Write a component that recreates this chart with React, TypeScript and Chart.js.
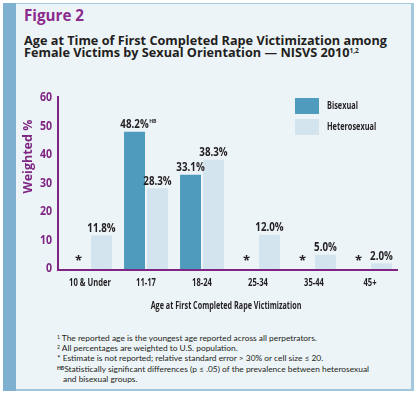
import React, { useEffect, useRef } from "react";
import { Chart, registerables } from "chart.js";

Chart.register(...registerables);

// ---- Data ----
const categories = ["10 & Under", "11-17", "18-24", "25-34", "35-44", "45+"];
const seriesNames = ["Bisexual", "Heterosexual"];
const bisexualValues: (number | null)[] = [null, 48.2, 33.1, null, null, null];
const heterosexualValues: (number | null)[] = [11.8, 28.3, 38.3, 12.0, 5.0, 2.0];
const bisexualNotes = ["", "HB", "", "", "", ""];
const heterosexualNotes = ["", "", "", "", "", ""];
const yMin = 0;
const yMax = 60;
const yStep = 10;
const yAxisTitle = "Weighted %";
const xAxisTitle = "Age at First Completed Rape Victimization";
const footnotes = [
  { mark: "1", text: "The reported age is the youngest age reported across all perpetrators." },
  { mark: "2", text: "All percentages are weighted to U.S. population." },
  { mark: "*", text: "Estimate is not reported; relative standard error > 30% or cell size \u2264 20." },
  { mark: "HB", text: "Statistically significant differences (p \u2264 .05) of the prevalence between heterosexual and bisexual groups." },
];

// ---- Styles ----
const PURPLE = "#7e2583";
const TEXT = "#231f20";
const BI_COLOR = "#4f9bbd";
const HET_COLOR = "#d3e4ee";
const PANEL_BG = "#edf4f8";
const STRIP = "#7fb0cf";
const BORDER = "#a3c7dd";
const FONT = '"Open Sans", "Noto Sans", sans-serif';
const SANS_FOOT = 'Lato, "Open Sans", sans-serif';

const notesByDataset = [bisexualNotes, heterosexualNotes];

function drawText(
  ctx: CanvasRenderingContext2D,
  text: string,
  x: number,
  y: number,
  size: number,
  color: string,
  align: CanvasTextAlign,
  sx: number,
  baseline: CanvasTextBaseline = "alphabetic",
  rotate = 0
) {
  ctx.save();
  ctx.font = `bold ${size}px ${FONT}`;
  ctx.fillStyle = color;
  ctx.textAlign = align;
  ctx.textBaseline = baseline;
  ctx.translate(x, y);
  if (rotate) ctx.rotate(rotate);
  ctx.scale(sx, 1);
  ctx.fillText(text, 0, 0);
  ctx.restore();
}

const annotationPlugin = {
  id: "barAnnotations",
  afterDatasetsDraw(chart: any) {
    const ctx: CanvasRenderingContext2D = chart.ctx;
    const xScale = chart.scales.x;
    const yScale = chart.scales.y;
    const area = chart.chartArea;
    const y0 = yScale.getPixelForValue(0);
    ctx.save();
    // axis lines
    ctx.strokeStyle = PURPLE;
    ctx.lineWidth = 2;
    ctx.beginPath();
    const axX = area.left - 4;
    ctx.moveTo(axX, area.top - 2);
    ctx.lineTo(axX, y0 + 1);
    ctx.lineTo(area.right, y0 + 1);
    ctx.stroke();
    ctx.restore();

    // y tick labels
    yScale.ticks.forEach((t: any) => {
      drawText(ctx, String(t.value), axX - 6, yScale.getPixelForValue(t.value), 11.5, PURPLE, "right", 0.92, "middle");
    });
    // y title
    drawText(ctx, yAxisTitle, 12, (area.top + area.bottom) / 2 - 27, 12.5, PURPLE, "center", 1.0, "middle", -Math.PI / 2);
    // x tick labels
    categories.forEach((c, i) => {
      drawText(ctx, c, xScale.getPixelForTick(i), y0 + 14.5, 10, TEXT, "center", 0.76, "middle");
    });
    // x title
    drawText(ctx, xAxisTitle, (area.left + area.right) / 2 - 4, y0 + 37.5, 10, TEXT, "center", 0.72, "middle");

    // bar labels
    chart.data.datasets.forEach((ds: any, di: number) => {
      const meta = chart.getDatasetMeta(di);
      meta.data.forEach((bar: any, i: number) => {
        const v = ds.data[i];
        if (v == null) {
          drawText(ctx, "*", bar.x, y0 - 4, 13, TEXT, "center", 1, "alphabetic");
        } else {
          const t = v.toFixed(1) + "%";
          drawText(ctx, t, bar.x, bar.y - 3.5, 11.5, TEXT, "center", 0.85, "alphabetic");
          const sup = notesByDataset[di][i];
          if (sup) {
            ctx.save();
            ctx.font = `bold 11.5px ${FONT}`;
            const w = ctx.measureText(t).width * 0.85;
            ctx.restore();
            drawText(ctx, sup, bar.x + w / 2 + 0.5, bar.y - 8.5, 6, TEXT, "left", 0.85, "alphabetic");
          }
        }
      });
    });

    // legend
    chart.data.datasets.forEach((ds: any, di: number) => {
      const lx = area.right - 103;
      const ly = area.top + di * 21;
      ctx.save();
      ctx.fillStyle = ds.backgroundColor;
      ctx.fillRect(lx, ly, 24, 16);
      ctx.restore();
      drawText(ctx, ds.label, lx + 32, ly + 8.5, 10.5, TEXT, "left", 0.7, "middle");
    });
  },
};

export default function App() {
  const canvasRef = useRef<HTMLCanvasElement | null>(null);

  useEffect(() => {
    if (!canvasRef.current) return;
    const chart = new Chart(canvasRef.current, {
      type: "bar",
      data: {
        labels: categories,
        datasets: [
          {
            label: seriesNames[0],
            data: bisexualValues,
            backgroundColor: BI_COLOR,
            categoryPercentage: 0.82,
            barPercentage: 0.913,
          },
          {
            label: seriesNames[1],
            data: heterosexualValues,
            backgroundColor: HET_COLOR,
            categoryPercentage: 0.82,
            barPercentage: 0.913,
          },
        ],
      },
      options: {
        animation: false,
        responsive: false,
        maintainAspectRatio: false,
        layout: { padding: { left: 0, right: 14, top: 18, bottom: 0 } },
        plugins: {
          legend: { display: false },
          tooltip: { enabled: false },
        },
        scales: {
          x: {
            grid: { display: false, drawTicks: false },
            border: { display: false },
            ticks: { display: false },
            afterFit: (scale: any) => {
              scale.height = 51;
            },
          },
          y: {
            min: yMin,
            max: yMax,
            grid: { display: false, drawTicks: false },
            border: { display: false },
            ticks: { display: false, stepSize: yStep },
            afterFit: (scale: any) => {
              scale.width = 46;
            },
          },
        },
      },
      plugins: [annotationPlugin],
    });
    return () => chart.destroy();
  }, []);

  return (
    <div
      style={{
        position: "fixed",
        left: 0,
        top: 0,
        width: 416,
        height: 394,
        background: "#ffffff",
        overflow: "hidden",
      }}
    >
      {/* panel */}
      <div
        style={{
          position: "absolute",
          left: 3,
          top: 3,
          width: 411,
          height: 388,
          background: PANEL_BG,
          boxSizing: "border-box",
          borderTop: `1px solid ${BORDER}`,
          borderRight: `3px solid ${BORDER}`,
          borderBottom: `2px solid ${BORDER}`,
        }}
      />
      <div style={{ position: "absolute", left: 3, top: 3, width: 13, height: 388, background: STRIP }} />

      {/* titles */}
      <div
        style={{
          position: "absolute",
          left: 24,
          top: 6,
          fontFamily: FONT,
          fontWeight: 700,
          fontSize: 15.2,
          lineHeight: "18px",
          color: "#8a2b8d",
          whiteSpace: "nowrap",
        }}
      >
        Figure 2
      </div>
      <div
        style={{
          position: "absolute",
          left: 24,
          top: 35,
          fontFamily: FONT,
          fontWeight: 700,
          fontSize: 12.7,
          lineHeight: "11.5px",
          color: TEXT,
          whiteSpace: "nowrap",
        }}
      >
        <div>Age at Time of First Completed Rape Victimization among</div>
        <div>
          Female Victims by Sexual Orientation — NISVS 2010
          <sup style={{ fontSize: 6.5, verticalAlign: "top", position: "relative", top: -2 }}>1,2</sup>
        </div>
      </div>

      {/* chart */}
      <canvas
        ref={canvasRef}
        width={396}
        height={240}
        style={{ position: "absolute", left: 16, top: 80, width: 396, height: 240 }}
      />

      {/* footnotes */}
      <div
        style={{
          position: "absolute",
          left: 57,
          top: 333,
          width: 316,
          fontFamily: SANS_FOOT,
          fontSize: 8.4,
          lineHeight: "10.2px",
          color: TEXT,
        }}
      >
        {footnotes.map((f) => (
          <div key={f.mark} style={{ paddingLeft: 6, textIndent: -6 }}>
            <span
              style={{
                fontSize: f.mark === "*" ? 8.4 : 5,
                verticalAlign: f.mark === "*" ? "baseline" : "top",
                position: "relative",
                top: f.mark === "*" ? 0 : -1,
                fontWeight: f.mark === "HB" ? 700 : 400,
              }}
            >
              {f.mark}
            </span>
            {f.mark === "HB" ? "" : " "}
            {f.text}
          </div>
        ))}
      </div>
    </div>
  );
}
